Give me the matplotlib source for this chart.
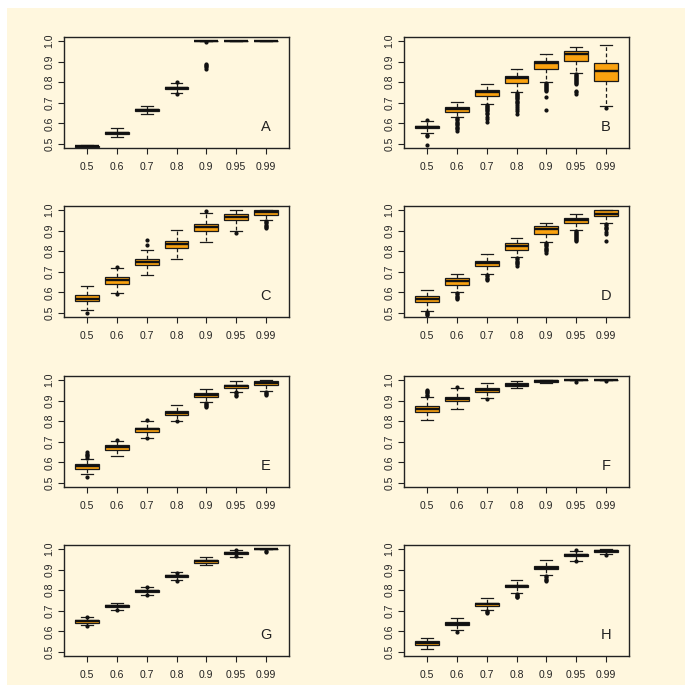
import matplotlib
matplotlib.use("Agg")
import matplotlib.pyplot as plt
from matplotlib.patches import Rectangle

plt.rcParams['font.family'] = ['Liberation Sans', 'DejaVu Sans']

categories = ["0.5", "0.6", "0.7", "0.8", "0.9", "0.95", "0.99"]
panel_labels = ["A", "B", "C", "D", "E", "F", "G", "H"]

# box statistics per panel (rows) and category (columns)
whislo = [
    [0.482, 0.534, 0.643, 0.748, 1.000, 1.000, 1.000],
    [0.551, 0.631, 0.692, 0.750, 0.803, 0.845, 0.683],
    [0.516, 0.595, 0.683, 0.763, 0.847, 0.899, 0.953],
    [0.511, 0.601, 0.689, 0.770, 0.844, 0.905, 0.937],
    [0.545, 0.632, 0.719, 0.803, 0.894, 0.944, 0.948],
    [0.805, 0.861, 0.912, 0.960, 0.986, 1.000, 1.000],
    [0.629, 0.706, 0.779, 0.848, 0.924, 0.963, 1.000],
    [0.516, 0.607, 0.705, 0.788, 0.872, 0.944, 0.976],
]
q1 = [
    [0.485, 0.550, 0.659, 0.768, 1.000, 1.000, 1.000],
    [0.578, 0.657, 0.732, 0.796, 0.864, 0.904, 0.806],
    [0.557, 0.642, 0.733, 0.814, 0.897, 0.950, 0.976],
    [0.554, 0.637, 0.727, 0.808, 0.886, 0.937, 0.970],
    [0.569, 0.661, 0.748, 0.831, 0.918, 0.963, 0.976],
    [0.845, 0.896, 0.942, 0.971, 0.992, 1.000, 1.000],
    [0.642, 0.718, 0.790, 0.863, 0.934, 0.976, 1.000],
    [0.532, 0.631, 0.723, 0.814, 0.901, 0.965, 0.987],
]
med = [
    [0.488, 0.555, 0.664, 0.772, 1.000, 1.000, 1.000],
    [0.583, 0.668, 0.750, 0.819, 0.894, 0.936, 0.854],
    [0.570, 0.660, 0.746, 0.834, 0.918, 0.968, 0.990],
    [0.568, 0.653, 0.741, 0.825, 0.910, 0.953, 0.983],
    [0.582, 0.673, 0.760, 0.842, 0.927, 0.971, 0.985],
    [0.859, 0.909, 0.952, 0.978, 0.997, 1.000, 1.000],
    [0.648, 0.724, 0.797, 0.869, 0.942, 0.981, 1.000],
    [0.542, 0.638, 0.732, 0.821, 0.910, 0.971, 0.992],
]
q3 = [
    [0.490, 0.560, 0.668, 0.776, 1.000, 1.000, 1.000],
    [0.588, 0.680, 0.763, 0.830, 0.905, 0.952, 0.894],
    [0.585, 0.677, 0.762, 0.852, 0.932, 0.983, 1.000],
    [0.582, 0.669, 0.754, 0.838, 0.924, 0.962, 1.000],
    [0.594, 0.682, 0.769, 0.852, 0.937, 0.977, 0.994],
    [0.873, 0.920, 0.960, 0.986, 1.000, 1.000, 1.000],
    [0.653, 0.729, 0.803, 0.874, 0.948, 0.984, 1.000],
    [0.551, 0.644, 0.740, 0.827, 0.918, 0.978, 0.997],
]
whishi = [
    [0.494, 0.578, 0.686, 0.796, 1.000, 1.000, 1.000],
    [0.612, 0.705, 0.790, 0.864, 0.936, 0.970, 0.982],
    [0.631, 0.720, 0.808, 0.904, 0.987, 1.000, 1.000],
    [0.609, 0.691, 0.785, 0.863, 0.938, 0.979, 1.000],
    [0.618, 0.705, 0.800, 0.877, 0.958, 0.994, 1.000],
    [0.920, 0.960, 0.986, 0.998, 1.000, 1.000, 1.000],
    [0.668, 0.739, 0.816, 0.890, 0.961, 0.998, 1.000],
    [0.567, 0.667, 0.763, 0.851, 0.946, 0.989, 1.000],
]
outliers = [
    [[], [], [], [0.800, 0.745], [0.997, 0.891, 0.885, 0.878, 0.872, 0.866], [], []],
    [[0.617, 0.545, 0.540, 0.495],
     [0.626, 0.620, 0.614, 0.608, 0.602, 0.596, 0.590, 0.584, 0.578, 0.572, 0.565],
     [0.688, 0.683, 0.678, 0.673, 0.668, 0.663, 0.658, 0.652, 0.645, 0.630, 0.622, 0.605],
     [0.746, 0.741, 0.736, 0.731, 0.726, 0.721, 0.716, 0.711, 0.706, 0.700, 0.690, 0.680, 0.668, 0.660, 0.643],
     [0.798, 0.793, 0.788, 0.783, 0.778, 0.773, 0.768, 0.763, 0.758, 0.728, 0.665],
     [0.840, 0.835, 0.830, 0.825, 0.820, 0.815, 0.810, 0.805, 0.800, 0.795, 0.790, 0.755, 0.750, 0.745],
     [0.676]],
    [[0.500], [0.724, 0.590], [0.828, 0.857], [], [0.995], [0.890],
     [0.948, 0.942, 0.936, 0.930, 0.924, 0.918, 0.914]],
    [[0.506, 0.500, 0.495, 0.490],
     [0.596, 0.590, 0.584, 0.578, 0.572, 0.567],
     [0.684, 0.678, 0.672, 0.666, 0.660],
     [0.765, 0.760, 0.754, 0.748, 0.742, 0.736, 0.728],
     [0.839, 0.834, 0.829, 0.824, 0.818, 0.812, 0.806, 0.800, 0.792],
     [0.900, 0.895, 0.890, 0.885, 0.880, 0.875, 0.870, 0.865, 0.860, 0.855, 0.850],
     [0.932, 0.926, 0.920, 0.914, 0.906, 0.895, 0.886, 0.850]],
    [[0.623, 0.629, 0.635, 0.641, 0.648, 0.530], [0.711], [0.806, 0.717], [0.800],
     [0.889, 0.884, 0.879, 0.874, 0.870], [0.940, 0.935, 0.930, 0.925],
     [0.943, 0.938, 0.933, 0.929]],
    [[0.925, 0.930, 0.935, 0.940, 0.945, 0.950], [0.965], [0.910], [], [], [0.993], [0.997]],
    [[0.670, 0.627], [0.703], [0.818, 0.777], [0.846, 0.884], [], [0.995, 0.967], [0.990, 0.987]],
    [[], [0.595], [0.700, 0.695, 0.690], [0.783, 0.778, 0.773, 0.768, 0.765],
     [0.867, 0.862, 0.857, 0.851, 0.845], [0.998, 0.944], [0.970]],
]

bg = "#FFF7DE"
fig = plt.figure(figsize=(6.85, 6.85), dpi=100, facecolor=bg)
# white strips on top and left edge
fig.patches.append(Rectangle((0, 1 - 8 / 685), 1, 8 / 685, transform=fig.transFigure,
                             facecolor="white", edgecolor="none", zorder=0))
fig.patches.append(Rectangle((0, 0), 7 / 685, 1, transform=fig.transFigure,
                             facecolor="white", edgecolor="none", zorder=0))

col_left = [64 / 685, 404 / 685]
col_w = 225 / 685
row_bottom = [1 - 148 / 685, 1 - 317 / 685, 1 - 487 / 685, 1 - 656 / 685]
row_h = 111 / 685

for p in range(8):
    r, c = divmod(p, 2)
    ax = fig.add_axes([col_left[c], row_bottom[r], col_w, row_h])
    ax.set_facecolor(bg)
    stats = []
    for k in range(len(categories)):
        stats.append(dict(whislo=whislo[p][k], q1=q1[p][k], med=med[p][k],
                          q3=q3[p][k], whishi=whishi[p][k], fliers=outliers[p][k]))
    ax.bxp(stats, positions=range(1, 8), widths=0.8, capwidths=0.4,
           patch_artist=True, showfliers=True,
           boxprops=dict(facecolor="#FAA20F", edgecolor="#1a1a1a", linewidth=0.9),
           medianprops=dict(color="#111111", linewidth=1.7),
           whiskerprops=dict(color="#1a1a1a", linewidth=0.9, linestyle=(0, (3, 2))),
           capprops=dict(color="#1a1a1a", linewidth=0.9),
           flierprops=dict(marker="o", markersize=2.0, markerfacecolor="#111111",
                           markeredgecolor="#111111", linestyle="none"))
    ax.set_xlim(0.22, 7.78)
    ax.set_ylim(0.48, 1.02)
    ax.set_xticks(range(1, 8))
    ax.set_xticklabels(categories)
    ax.set_yticks([0.5, 0.6, 0.7, 0.8, 0.9, 1.0])
    ax.set_yticklabels(["0.5", "0.6", "0.7", "0.8", "0.9", "1.0"], rotation=90, va="center")
    ax.tick_params(axis="both", labelsize=7.5, length=4, width=0.8, color="#222222",
                   labelcolor="#222222")
    ax.tick_params(axis="x", pad=6)
    ax.tick_params(axis="y", pad=3)
    for s in ax.spines.values():
        s.set_linewidth(1.0)
        s.set_color("#222222")
    ax.text(7, 0.583, panel_labels[p], fontsize=10.5, ha="center", va="center",
            color="#222222")

fig.savefig("out.png", dpi=100, facecolor=bg)
